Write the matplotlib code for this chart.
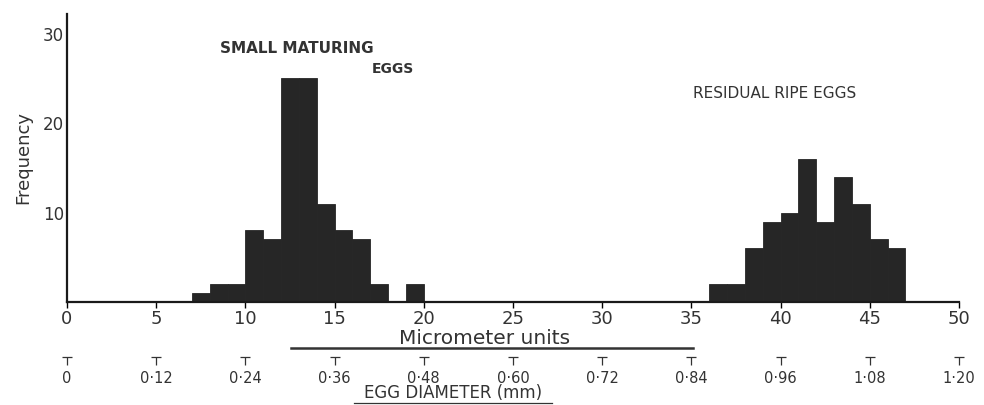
import matplotlib
matplotlib.use("Agg")
import matplotlib.pyplot as plt
from matplotlib.lines import Line2D

# ---- data ----
small_bins = [7, 8, 9, 10, 11, 12, 13, 14, 15, 16, 17, 18, 19]
small_counts = [1, 2, 2, 8, 7, 25, 25, 11, 8, 7, 2, 0, 2]
ripe_bins = [36, 37, 38, 39, 40, 41, 42, 43, 44, 45, 46]
ripe_counts = [2, 2, 6, 9, 10, 16, 9, 14, 11, 7, 6]
x_ticks = [0, 5, 10, 15, 20, 25, 30, 35, 40, 45, 50]
y_ticks = [10, 20, 30]
diam_ticks = [0, 0.12, 0.24, 0.36, 0.48, 0.60, 0.72, 0.84, 0.96, 1.08, 1.20]
diam_labels = ["0", "0·12", "0·24", "0·36", "0·48", "0·60", "0·72", "0·84", "0·96", "1·08", "1·20"]

W, H = 984, 405
fig = plt.figure(figsize=(W / 100, H / 100), dpi=100)

L, R = 67 / W, 959 / W
B, T = 1 - 302 / H, 1 - 14 / H
ax = fig.add_axes([L, B, R - L, T - B])

bar_color = "#262626"
ax.bar(small_bins, small_counts, width=1, align="edge", color=bar_color,
       edgecolor=bar_color, linewidth=0.6)
ax.bar(ripe_bins, ripe_counts, width=1, align="edge", color=bar_color,
       edgecolor=bar_color, linewidth=0.6)

ax.set_xlim(0, 50)
ax.set_ylim(0, 32.2)
for s in ["top", "right"]:
    ax.spines[s].set_visible(False)
for s in ["left", "bottom"]:
    ax.spines[s].set_linewidth(1.6)
    ax.spines[s].set_color("#1a1a1a")

ax.set_xticks(x_ticks)
ax.set_xticklabels([str(v) for v in x_ticks], fontsize=13, color="#333333")
ax.tick_params(axis="x", direction="out", length=4, width=1, pad=2)
ax.set_yticks(y_ticks)
ax.set_yticklabels([str(v) for v in y_ticks], fontsize=12, color="#333333")
ax.tick_params(axis="y", length=0, pad=2)

ax.set_ylabel("Frequency", fontsize=13, color="#333333", labelpad=8)

ax.text(8.6, 28.3, "SMALL MATURING", fontsize=11, fontweight="bold",
        color="#333333", ha="left", va="center")
ax.text(19.45, 26.0, "EGGS", fontsize=10, fontweight="bold",
        color="#333333", ha="right", va="center")
ax.text(35.1, 23.3, "RESIDUAL RIPE EGGS", fontsize=11,
        color="#333333", ha="left", va="center")

# Micrometer units label with rule
fig.text(485 / W, 1 - 339 / H, "Micrometer units", fontsize=14.5,
         color="#333333", ha="center", va="center")
fig.add_artist(Line2D([291 / W, 693 / W], [1 - 348 / H, 1 - 348 / H],
                      color="#333333", linewidth=1.8))

# Egg diameter axis
ax2 = fig.add_axes([L, 1 - 357 / H, R - L, 0.001])
ax2.set_xlim(0, 1.20)
ax2.set_ylim(0, 1)
for s in ax2.spines.values():
    s.set_visible(False)
ax2.set_yticks([])
ax2.set_xticks(diam_ticks)
ax2.set_xticklabels(diam_labels, fontsize=10.5, color="#333333")
ax2.tick_params(axis="x", direction="out", length=6, width=0.9, pad=4, color="#333333")
ax2.plot(diam_ticks, [0] * len(diam_ticks), linestyle="none", marker="_",
         markersize=7, markeredgewidth=0.9, color="#333333", clip_on=False)

fig.text(453 / W, 1 - 393 / H, "EGG DIAMETER (mm)", fontsize=12,
         color="#333333", ha="center", va="center")
fig.add_artist(Line2D([354 / W, 552 / W], [1 - 403 / H, 1 - 403 / H],
                      color="#333333", linewidth=0.9))

fig.savefig("out.png", dpi=100)
